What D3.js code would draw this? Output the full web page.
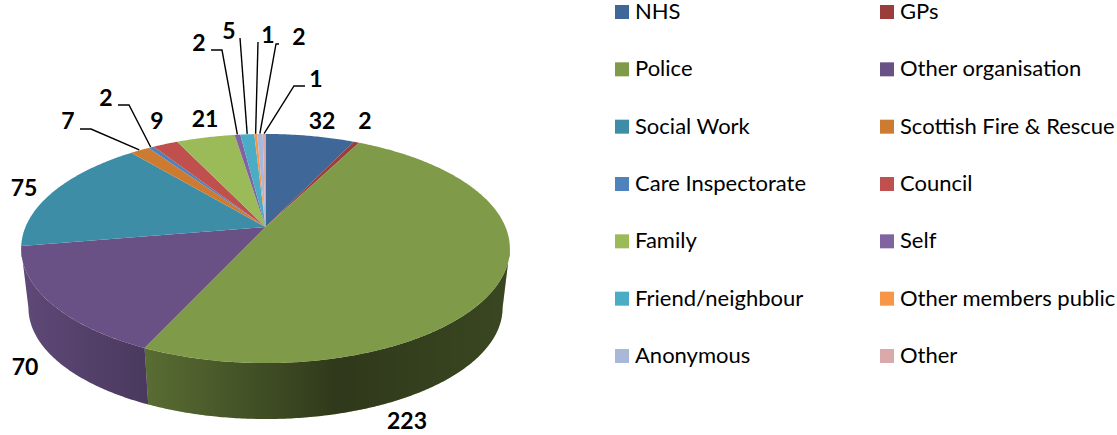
<!DOCTYPE html>
<html>
<head>
<meta charset="utf-8">
<script src="https://cdn.jsdelivr.net/npm/d3@7"></script>
<style>
    html, body { margin: 0; padding: 0; background: #fff; overflow: hidden; }
    text { font-family: Lato, "Open Sans", sans-serif; fill: #000; }
</style>
</head>
<body>
<div id="chart"></div>
<script>
// Chart data
const categories = ["NHS", "GPs", "Police", "Other organisation", "Social Work", "Scottish Fire & Rescue",
    "Care Inspectorate", "Council", "Family", "Self", "Friend/neighbour", "Other members public",
    "Anonymous", "Other"];
const values = [32, 2, 223, 70, 75, 7, 2, 9, 21, 2, 5, 1, 2, 1];
const colors = ["#3f6797", "#9a3d3b", "#7f9a48", "#695185", "#3d8da7", "#ce7b32", "#4f81bd",
    "#c0504d", "#9bbb59", "#8064a2", "#4bacc6", "#f79646", "#a9b8d9", "#d9aaa9"];

// Label placement, in the same order as the values: [centre x, baseline y, leader points]
const labelLayout = [
    [322, 129, null],
    [365, 129, null],
    [407, 429, null],
    [25, 375, null],
    [24, 196, null],
    [68, 129, [[80, 129], [91, 129]]],
    [106, 106, [[118, 105], [129, 105]]],
    [157, 129, null],
    [205, 127, null],
    [199, 51, [[211, 50], [222, 50]]],
    [229, 39, [[240, 38]]],
    [268, 43, [[258, 42]]],
    [299, 45, [[279, 44], [276, 44]]],
    [316, 87, [[305, 86], [294, 86]]]
];

const width = 1117;
const height = 435;

// Tilted disc: the apex sits above the middle of the ellipse because of the perspective
const disc = { cx: 265.5, cy: 227, a: 240, b: 110.5, k: 0.188 };
const wallDrop = 60;
const wallScale = 0.97;

// Angles where the disc's edge turns away from the viewer, only the wall between them shows
const wallStart = Math.PI - Math.acos(disc.k);
const wallEnd = Math.PI + Math.acos(disc.k);

// Project a pie angle (0 = back of the disc, clockwise) on to the page
function project(angle, radius = 1, drop = 0, scale = 1) {
    const u = Math.sin(angle) * radius;
    const v = -Math.cos(angle) * radius;
    const w = 1 - disc.k * v;
    return [disc.cx + scale * disc.a * u / w, disc.cy + drop + scale * disc.b * v / w];
}

function arcPoints(start, end, drop = 0, scale = 1) {
    const steps = Math.max(2, Math.ceil((end - start) / 0.01));
    return d3.range(steps + 1).map(i => project(start + (end - start) * i / steps, 1, drop, scale));
}

const svg = d3.select("#chart")
    .append("svg")
    .attr("width", width)
    .attr("height", height)
    .style("display", "block");

// Shading along the side wall of the pie
const shade = svg.append("defs").append("linearGradient")
    .attr("id", "wall-shade")
    .attr("gradientUnits", "userSpaceOnUse")
    .attr("x1", 21).attr("x2", 510).attr("y1", 0).attr("y2", 0);

[[0, 0.1], [0.26, 0.3], [0.65, 0.63], [1, 0.54]].forEach(s => {
    shade.append("stop")
        .attr("offset", s[0])
        .attr("stop-color", "#000")
        .attr("stop-opacity", s[1]);
});

const pie = d3.pie().sort(null).value(d => d)(values);
const line = d3.line();

// Side walls first, the top face covers the upper part of them
const walls = svg.append("g");
pie.forEach(slice => {
    const start = Math.max(slice.startAngle, wallStart);
    const end = Math.min(slice.endAngle, wallEnd);
    if (end <= start) return;
    const outline = arcPoints(start, end)
        .concat(arcPoints(start, end, wallDrop, wallScale).reverse());
    const d = line(outline) + "Z";
    walls.append("path").attr("d", d).attr("fill", colors[slice.index]);
    walls.append("path").attr("d", d).attr("fill", "url(#wall-shade)");
});

// Top face
svg.append("g")
    .selectAll("path")
    .data(pie)
    .join("path")
    .attr("d", d => line([[disc.cx, disc.cy], ...arcPoints(d.startAngle, d.endAngle)]) + "Z")
    .attr("fill", (d, i) => colors[i]);

// Leader lines
svg.append("g")
    .selectAll("path")
    .data(pie.filter((d, i) => labelLayout[i][2]))
    .join("path")
    .attr("d", d => line([...labelLayout[d.index][2], project((d.startAngle + d.endAngle) / 2, 1.005)]))
    .attr("fill", "none")
    .attr("stroke", "#000")
    .attr("stroke-width", 1.4);

// Value labels
svg.append("g")
    .selectAll("text")
    .data(values)
    .join("text")
    .attr("x", (d, i) => labelLayout[i][0])
    .attr("y", (d, i) => labelLayout[i][1])
    .attr("text-anchor", "middle")
    .style("font-size", "23px")
    .style("font-weight", "bold")
    .text(d => d);

// Legend, two columns
const legendX = d3.scalePoint().domain([0, 1]).range([615, 880]);
const legendY = d3.scalePoint().domain(d3.range(7)).range([12, 356]);

const legend = svg.append("g")
    .selectAll("g")
    .data(categories)
    .join("g")
    .attr("transform", (d, i) => `translate(${legendX(i % 2)},${legendY(Math.floor(i / 2))})`);

legend.append("rect")
    .attr("x", 0)
    .attr("y", -7)
    .attr("width", 14)
    .attr("height", 14)
    .attr("fill", (d, i) => colors[i]);

legend.append("text")
    .attr("x", 20)
    .attr("y", 7)
    .style("font-size", "22px")
    .text(d => d);
</script>
</body>
</html>
